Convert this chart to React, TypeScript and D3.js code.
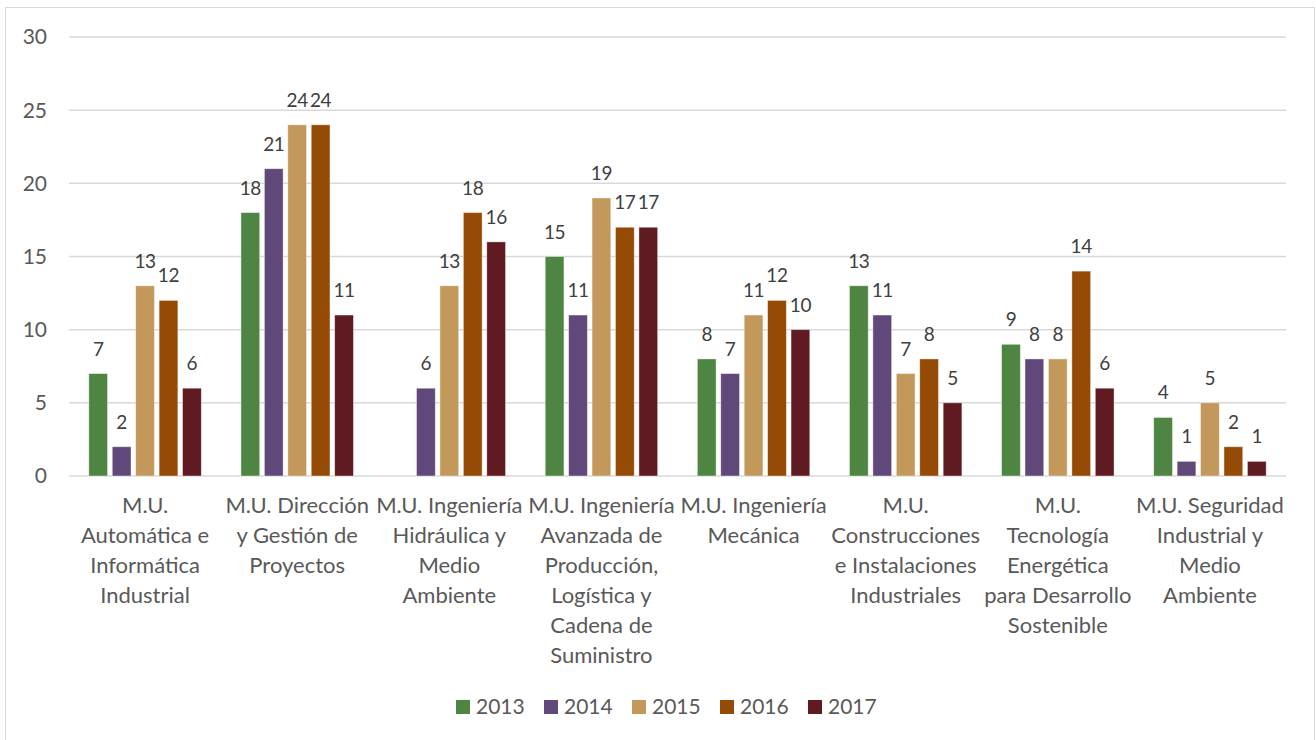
import * as React from "react";
import * as d3 from "d3";

const W = 1316;
const H = 740;

const categories = [
  ["M.U.", "Automática e", "Informática", "Industrial"],
  ["M.U. Dirección", "y Gestión de", "Proyectos"],
  ["M.U. Ingeniería", "Hidráulica y", "Medio", "Ambiente"],
  ["M.U. Ingeniería", "Avanzada de", "Producción,", "Logística y", "Cadena de", "Suministro"],
  ["M.U. Ingeniería", "Mecánica"],
  ["M.U.", "Construcciones", "e Instalaciones", "Industriales"],
  ["M.U.", "Tecnología", "Energética", "para Desarrollo", "Sostenible"],
  ["M.U. Seguridad", "Industrial y", "Medio", "Ambiente"],
];

const years = ["2013", "2014", "2015", "2016", "2017"];
const colors = ["#4e8542", "#60497a", "#c3985b", "#954a05", "#5f1a22"];

// values per year, one per category (null = no bar)
const v2013 = [7, 18, null, 15, 8, 13, 9, 4];
const v2014 = [2, 21, 6, 11, 7, 11, 8, 1];
const v2015 = [13, 24, 13, 19, 11, 7, 8, 5];
const v2016 = [12, 24, 18, 17, 12, 8, 14, 2];
const v2017 = [6, 11, 16, 17, 10, 5, 6, 1];
const series = [v2013, v2014, v2015, v2016, v2017];

const yTicks = [0, 5, 10, 15, 20, 25, 30];

const font = "Lato, 'Open Sans', sans-serif";
const textColor = "#595959";

export default function App() {
  const left = 69;
  const right = 1286;
  const top = 37;
  const bottom = 476;

  const x0 = d3
    .scaleBand<number>()
    .domain(d3.range(categories.length))
    .range([left, right])
    .paddingInner(0.23)
    .paddingOuter(0.115);

  const x1 = d3
    .scaleBand<number>()
    .domain(d3.range(years.length))
    .range([0, x0.bandwidth()])
    .paddingInner(0.2)
    .paddingOuter(0.1);

  const y = d3.scaleLinear().domain([0, 30]).range([bottom, top]);

  const legendStep = 88;
  const legendStart = 456;

  return (
    <svg
      width={W}
      height={H}
      style={{ position: "absolute", left: 0, top: 0, background: "#fff" }}
      fontFamily={font}
    >
      <rect x={5.5} y={7.5} width={1309} height={745} fill="#fff" stroke="#d9d9d9" strokeWidth={1} />

      {yTicks.map((t) => (
        <g key={t}>
          <line x1={left} x2={right} y1={y(t)} y2={y(t)} stroke="#d9d9d9" strokeWidth={1.5} />
          <text x={47} y={y(t)} dy="0.35em" textAnchor="end" fontSize={21} fill={textColor}>
            {t}
          </text>
        </g>
      ))}

      {categories.map((cat, ci) => (
        <g key={ci} transform={`translate(${x0(ci)},0)`}>
          {series.map((vals, si) => {
            const v = vals[ci];
            if (v == null) return null;
            const bx = x1(si)!;
            return (
              <g key={si}>
                <rect
                  x={bx}
                  y={y(v)}
                  width={x1.bandwidth()}
                  height={y(0) - y(v)}
                  fill={colors[si]}
                  stroke="#ffffff"
                  strokeOpacity={0.5}
                  strokeWidth={0.8}
                />
                <text
                  x={bx + x1.bandwidth() / 2}
                  y={y(v) - 18}
                  textAnchor="middle"
                  fontSize={19}
                  letterSpacing={-0.4}
                  fill="#404040"
                >
                  {v}
                </text>
              </g>
            );
          })}
          {cat.map((line, li) => (
            <text
              key={li}
              x={x0.bandwidth() / 2}
              y={513 + li * 30}
              textAnchor="middle"
              fontSize={22}
              fill={textColor}
            >
              {line}
            </text>
          ))}
        </g>
      ))}

      {years.map((yr, i) => (
        <g key={yr} transform={`translate(${legendStart + i * legendStep},0)`}>
          <rect x={0} y={700} width={14} height={14} fill={colors[i]} />
          <text x={20} y={714} fontSize={21} fill={textColor}>
            {yr}
          </text>
        </g>
      ))}
    </svg>
  );
}
